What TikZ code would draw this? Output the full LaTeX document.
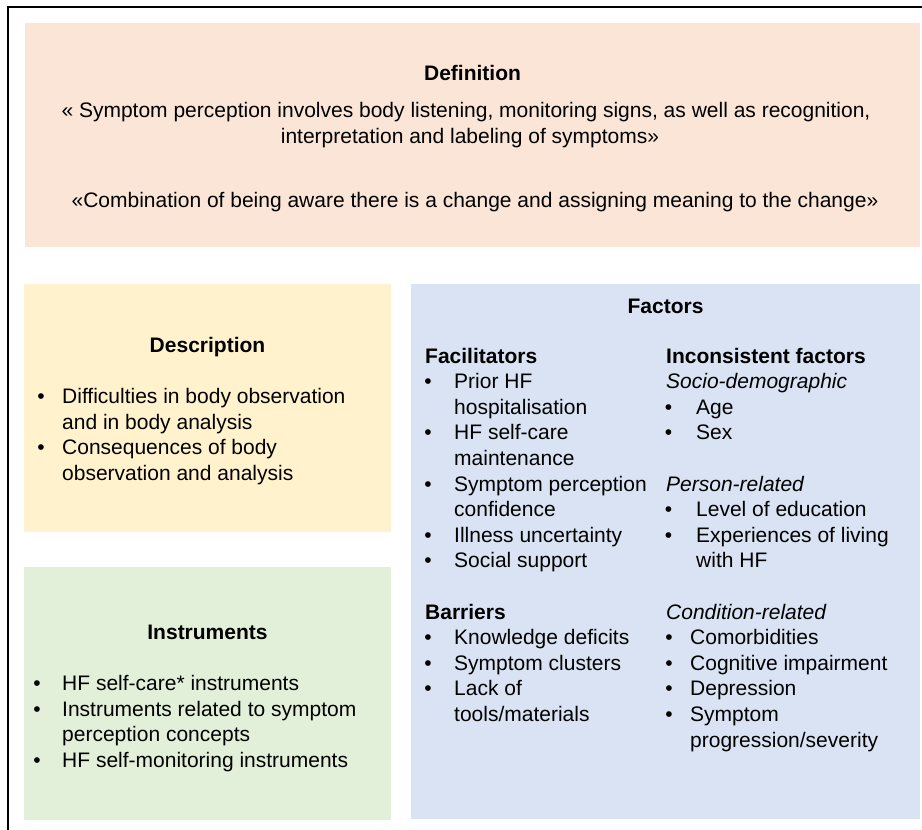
\documentclass[tikz,border=0pt]{standalone}
\usepackage{fontspec}
\setmainfont{Liberation Sans}
\definecolor{defpink}{HTML}{FBE5D6}
\definecolor{descyellow}{HTML}{FFF2CC}
\definecolor{instgreen}{HTML}{E2F0D9}
\definecolor{factblue}{HTML}{DAE3F3}
\begin{document}
\begin{tikzpicture}[x=1pt,y=-1pt,
  txt/.style={inner sep=0pt, anchor=base west, font=\fontsize{21}{26}\selectfont},
  ctxt/.style={inner sep=0pt, anchor=base, font=\fontsize{21}{26}\selectfont},
  hd/.style={ctxt, font=\fontsize{21}{26}\selectfont\bfseries},
  sub/.style={txt, font=\fontsize{21}{26}\selectfont\bfseries},
  it/.style={txt, font=\fontsize{21}{26}\selectfont\itshape},
  bul/.style={inner sep=0pt, anchor=base, font=\fontsize{21}{26}\selectfont}]
\useasboundingbox (0,0) rectangle (922,830);
% outer frame (cropped at right and bottom)
\draw[line width=1.5pt] (8,7) rectangle (960,860);
% boxes
\fill[defpink] (25,23) rectangle (920,247);
\fill[descyellow] (24,284) rectangle (391,532);
\fill[instgreen] (24,567) rectangle (391,820);
\fill[factblue] (411,284) rectangle (920,819);
% Definition
\node[hd] (defh) at (472.5,80) {Definition};
\node[ctxt] (def1) at (466,117.5) {« Symptom perception involves body listening, monitoring signs, as well as recognition,};
\node[ctxt] (def2) at (470,143.5) {interpretation and labeling of symptoms»};
\node[ctxt] (def3) at (475,207.5) {«Combination of being aware there is a change and assigning meaning to the change»};
% Description
\node[hd] (desch) at (207.5,352.5) {Description};
\foreach \yy/\b/\t [count=\i] in {403/1/Difficulties in body observation, 429/0/and in body analysis, 454.5/1/Consequences of body, 480/0/observation and analysis}{
  \node[txt] (desc\i) at (62,\yy) {\t};
  \ifnum\b=1 \node[bul] (descb\i) at (41,\yy) {\textbullet};\fi
}
% Instruments
\node[hd] (insth) at (207.5,639.5) {Instruments};
\foreach \yy/\b/\t [count=\i] in {690.5/1/HF self-care* instruments, 716/1/Instruments related to symptom, 741.5/0/perception concepts, 767/1/HF self-monitoring instruments}{
  \node[txt] (inst\i) at (62,\yy) {\t};
  \ifnum\b=1 \node[bul] (instb\i) at (37,\yy) {\textbullet};\fi
}
% Factors
\node[hd] (facth) at (665.5,313) {Factors};
\node[sub] (facil) at (425,363) {Facilitators};
\node[sub] (barr) at (425,{363+25.6*10}) {Barriers};
\foreach \k/\b/\t [count=\i] in {1/1/Prior HF, 2/0/hospitalisation, 3/1/HF self-care, 4/0/maintenance, 5/1/Symptom perception, 6/0/confidence, 7/1/Illness uncertainty, 8/1/Social support, 11/1/Knowledge deficits, 12/1/Symptom clusters, 13/1/Lack of, 14/0/{tools/materials}}{
  \node[txt] (fl\i) at (454,{363+25.6*\k}) {\t};
  \ifnum\b=1 \node[bul] (flb\i) at (428,{363+25.6*\k}) {\textbullet};\fi
}
\node[sub] (incon) at (666,363) {Inconsistent factors};
\node[it] (socio) at (666,{363+25.6}) {Socio-demographic};
\node[it] (person) at (666,{363+25.6*5}) {Person-related};
\node[it] (cond) at (666,{363+25.6*10}) {Condition-related};
\foreach \k/\b/\t [count=\i] in {2/1/Age, 3/1/Sex, 6/1/Level of education, 7/1/Experiences of living, 8/0/with HF}{
  \node[txt] (fr\i) at (696,{363+25.6*\k}) {\t};
  \ifnum\b=1 \node[bul] (frb\i) at (668.5,{363+25.6*\k}) {\textbullet};\fi
}
\foreach \k/\b/\t [count=\i] in {11/1/Comorbidities, 12/1/Cognitive impairment, 13/1/Depression, 14/1/Symptom, 15/0/{progression/severity}}{
  \node[txt] (fc\i) at (690,{363+25.6*\k}) {\t};
  \ifnum\b=1 \node[bul] (fcb\i) at (669,{363+25.6*\k}) {\textbullet};\fi
}
\end{tikzpicture}
\end{document}
